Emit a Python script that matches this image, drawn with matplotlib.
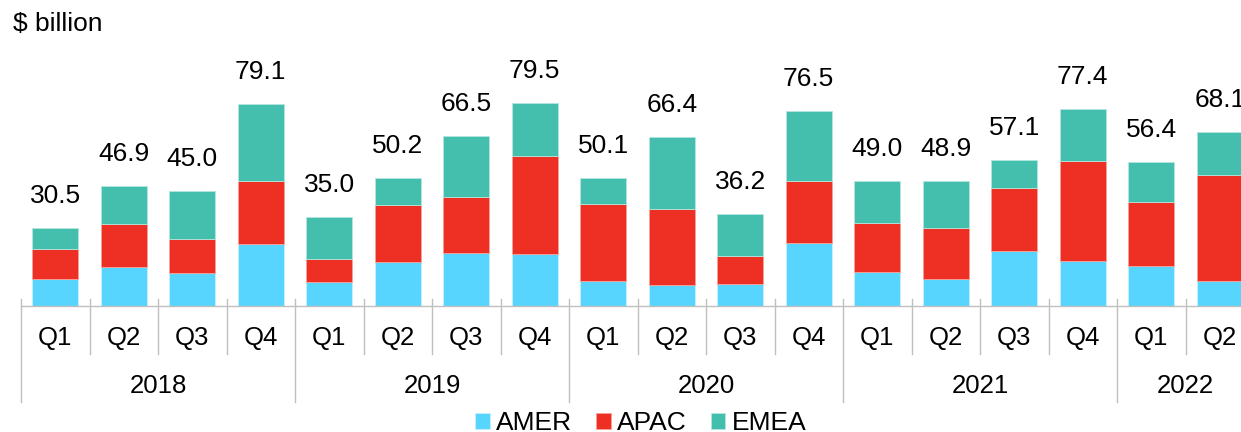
import numpy as np
import matplotlib
matplotlib.use('Agg')
import matplotlib.pyplot as plt
import matplotlib.transforms as mtransforms

plt.rcParams['font.family'] = ['Liberation Sans', 'DejaVu Sans']

quarters = ['Q1', 'Q2', 'Q3', 'Q4'] * 4 + ['Q1', 'Q2']
years = ['2018', '2019', '2020', '2021', '2022']
year_counts = [4, 4, 4, 4, 2]

amer = [10.7, 15.4, 13.0, 24.3, 9.6, 17.3, 20.9, 20.4, 9.8, 8.3, 8.7, 24.8,
        13.3, 10.7, 21.6, 17.5, 15.7, 9.7]
apac = [11.6, 16.7, 13.1, 24.6, 8.7, 22.5, 21.8, 38.6, 30.1, 29.6, 11.1, 24.2,
        19.3, 19.8, 24.5, 39.5, 25.2, 41.7]
emea = [8.2, 14.8, 18.9, 30.2, 16.7, 10.4, 23.8, 20.5, 10.2, 28.5, 16.4, 27.5,
        16.4, 18.4, 11.0, 20.4, 15.5, 16.7]
totals = [30.5, 46.9, 45.0, 79.1, 35.0, 50.2, 66.5, 79.5, 50.1, 66.4, 36.2, 76.5,
          49.0, 48.9, 57.1, 77.4, 56.4, 68.1]

c_amer = '#57D5FF'
c_apac = '#EE3024'
c_emea = '#44BFAD'
grid_c = '#BFBFBF'

W, H = 1241, 432
fig = plt.figure(figsize=(W / 100, H / 100), dpi=100)
ax = fig.add_axes([21 / W, 126 / H, 1233 / W, 255 / H])

x = np.arange(len(quarters))
amer = np.array(amer)
apac = np.array(apac)
emea = np.array(emea)
bw = 0.67
b1 = ax.bar(x, amer, bw, color=c_amer, edgecolor='#C8F0FF', linewidth=0.6, label='AMER')
b2 = ax.bar(x, apac, bw, bottom=amer, color=c_apac, edgecolor='#F7A09A', linewidth=0.6, label='APAC')
b3 = ax.bar(x, emea, bw, bottom=amer + apac, color=c_emea, edgecolor='#B5E6DE', linewidth=0.6, label='EMEA')

for xi, t in zip(x, totals):
    ax.annotate(f'{t:.1f}', (xi, t), xytext=(0, 23), textcoords='offset points',
                ha='center', va='center', fontsize=19, color='black')

ax.set_xlim(-0.5, len(quarters) - 0.5)
ax.set_ylim(0, 100)
ax.axis('off')

# category axis drawn by hand
trans = mtransforms.blended_transform_factory(ax.transData, ax.transAxes)
ax.plot([-0.5, len(quarters) - 0.5], [0, 0], color=grid_c, lw=1, transform=trans, clip_on=False)
for xi, q in zip(x, quarters):
    ax.text(xi, -0.125, q, transform=trans, ha='center', va='center', fontsize=18.5)
edges = np.cumsum([0] + year_counts) - 0.5
for i in range(len(quarters) + 1):
    xe = i - 0.5
    bottom = -0.376 if xe in edges else -0.188
    ax.plot([xe, xe], [0.027, bottom], color=grid_c, lw=1, transform=trans, clip_on=False)
for y, a, b in zip(years, edges[:-1], edges[1:]):
    ax.text((a + b) / 2, -0.314, y, transform=trans, ha='center', va='center', fontsize=18.5)

fig.text(13 / W, 1 - 24 / H, '$ billion', ha='left', va='center', fontsize=19)

fig.legend(handles=[b1, b2, b3], labels=['AMER', 'APAC', 'EMEA'], loc='center',
           bbox_to_anchor=(641 / W, 1 - 423 / H), ncol=3, frameon=False, fontsize=19,
           handlelength=0.55, handleheight=0.55, handletextpad=0.25, columnspacing=0.9,
           borderaxespad=0, borderpad=0)

fig.savefig('out.png', dpi=100)
